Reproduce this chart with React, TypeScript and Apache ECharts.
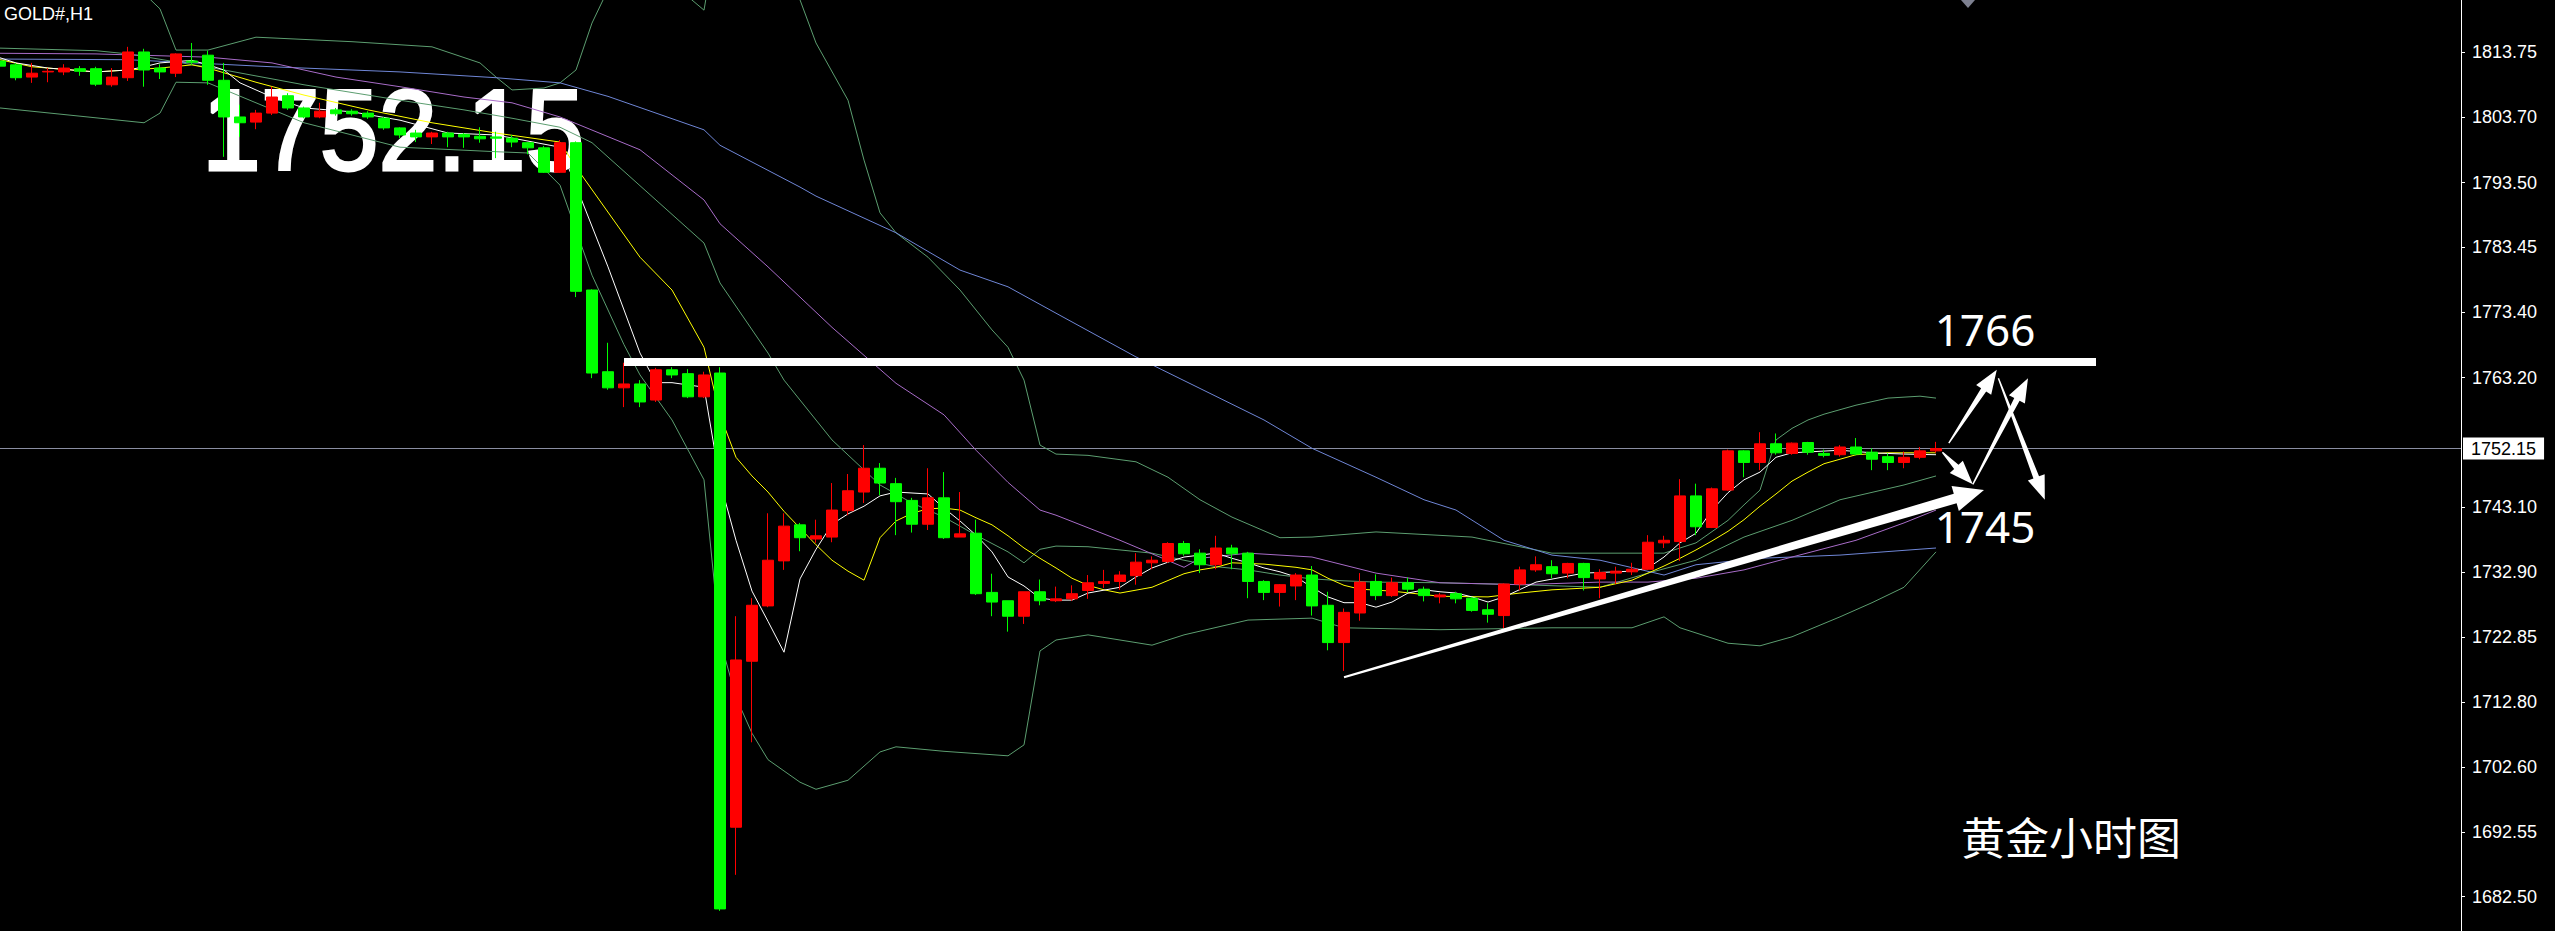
import React, { useEffect, useRef } from 'react';
import * as echarts from 'echarts';

// ---------- data ----------
// hourly bars, index = bar number (0 = leftmost)
const opens = [
  1812.4, 1811.8, 1809.9, 1810.7, 1810.7, 1811.2, 1811.2, 1808.7, 1809.8, 1813.8,
  1811.3, 1810.5, 1812.4, 1813.3, 1809.4, 1803.7, 1802.9, 1804.3, 1807.0, 1805.1,
  1803.7, 1804.8, 1804.6, 1804.3, 1803.5, 1802.0, 1801.2, 1800.6, 1801.2, 1801.0,
  1800.7, 1800.6, 1800.4, 1799.7, 1798.9, 1795.1, 1799.7, 1776.8, 1764.1, 1761.6,
  1762.2, 1759.7, 1764.4, 1763.8, 1760.2, 1763.9, 1693.3, 1719.1, 1727.7, 1734.7,
  1740.3, 1738.1, 1738.4, 1742.5, 1745.4, 1749.1, 1746.7, 1744.1, 1740.4, 1744.5,
  1738.4, 1739.0, 1729.8, 1728.5, 1726.1, 1729.9, 1728.5, 1728.8, 1730.1, 1731.2,
  1731.5, 1732.4, 1734.4, 1734.6, 1737.4, 1735.9, 1734.1, 1736.7, 1735.9, 1731.5,
  1729.8, 1730.8, 1732.5, 1727.8, 1722.0, 1726.6, 1731.5, 1729.3, 1731.3, 1730.3,
  1729.1, 1729.6, 1728.9, 1727.1, 1726.2, 1731.1, 1733.3, 1733.8, 1732.8, 1734.3,
  1731.9, 1732.8, 1733.0, 1733.4, 1737.5, 1737.7, 1744.8, 1739.9, 1745.7, 1751.8,
  1750.0, 1752.9, 1751.4, 1753.1, 1751.4, 1751.2, 1752.4, 1751.6, 1750.9, 1750.0,
  1750.8, 1751.8,
];
const closes = [
  1811.6, 1809.8, 1810.5, 1810.8, 1811.3, 1810.8, 1808.8, 1809.9, 1813.8, 1811.0,
  1810.7, 1813.5, 1812.2, 1809.4, 1803.7, 1802.8, 1804.3, 1806.8, 1805.1, 1803.7,
  1804.6, 1804.2, 1804.2, 1803.7, 1802.0, 1800.9, 1800.6, 1801.2, 1800.6, 1800.6,
  1800.3, 1800.4, 1799.8, 1798.9, 1795.1, 1799.7, 1776.6, 1763.9, 1761.6, 1762.2,
  1759.4, 1764.4, 1763.6, 1760.2, 1763.6, 1680.6, 1719.3, 1727.8, 1734.8, 1740.1,
  1738.3, 1738.6, 1742.6, 1745.6, 1749.1, 1746.8, 1743.9, 1740.4, 1744.5, 1738.3,
  1738.9, 1729.6, 1728.3, 1726.1, 1729.9, 1728.5, 1728.8, 1729.6, 1731.3, 1731.5,
  1732.5, 1734.5, 1734.8, 1737.4, 1735.8, 1734.1, 1736.7, 1735.8, 1731.5, 1729.8,
  1731.0, 1732.5, 1727.7, 1722.0, 1726.7, 1731.4, 1729.3, 1731.3, 1730.3, 1729.3,
  1729.4, 1728.8, 1727.0, 1726.4, 1731.1, 1733.3, 1734.1, 1732.7, 1734.3, 1732.1,
  1732.9, 1733.1, 1733.4, 1737.6, 1737.9, 1744.8, 1740.0, 1745.9, 1751.8, 1750.0,
  1752.9, 1751.5, 1753.0, 1751.6, 1751.1, 1752.4, 1751.3, 1750.5, 1750.0, 1750.8,
  1751.8, 1752.15,
];
const lows = [
  1811.2, 1809.4, 1809.0, 1809.1, 1810.2, 1810.1, 1808.5, 1808.4, 1809.3, 1808.4,
  1809.6, 1809.9, 1811.8, 1808.7, 1797.5, 1800.6, 1801.8, 1804.0, 1804.8, 1803.5,
  1803.5, 1803.9, 1803.9, 1803.4, 1801.7, 1800.4, 1799.8, 1799.5, 1799.0, 1798.9,
  1799.7, 1797.3, 1799.0, 1797.9, 1795.0, 1795.0, 1775.7, 1763.1, 1761.3, 1758.6,
  1758.6, 1759.4, 1763.1, 1760.0, 1760.0, 1680.3, 1685.9, 1706.5, 1727.5, 1733.3,
  1736.2, 1737.5, 1737.6, 1741.8, 1743.7, 1744.9, 1738.7, 1739.1, 1739.5, 1738.1,
  1738.4, 1729.4, 1726.1, 1723.7, 1724.9, 1727.8, 1728.3, 1728.5, 1728.8, 1730.5,
  1730.2, 1731.0, 1733.4, 1734.4, 1735.5, 1732.8, 1733.4, 1733.4, 1728.9, 1728.6,
  1727.6, 1728.6, 1726.2, 1720.8, 1717.6, 1725.4, 1728.6, 1729.1, 1729.8, 1728.4,
  1728.1, 1728.1, 1726.8, 1725.1, 1724.2, 1730.1, 1733.0, 1732.0, 1732.0, 1730.1,
  1728.9, 1731.1, 1732.5, 1733.3, 1736.7, 1734.7, 1738.7, 1739.8, 1745.6, 1747.7,
  1748.8, 1751.2, 1751.2, 1751.2, 1750.8, 1750.9, 1751.1, 1748.8, 1748.8, 1749.1,
  1750.5, 1751.5,
];
const highs = [
  1812.9, 1812.1, 1812.1, 1811.3, 1811.9, 1811.6, 1811.5, 1811.3, 1814.6, 1814.3,
  1811.9, 1813.6, 1815.2, 1814.0, 1812.1, 1805.6, 1804.8, 1808.4, 1807.4, 1805.3,
  1805.9, 1805.1, 1804.9, 1804.6, 1803.7, 1802.1, 1801.7, 1801.4, 1801.4, 1801.2,
  1802.1, 1801.4, 1800.9, 1799.8, 1799.2, 1800.1, 1799.9, 1776.9, 1768.6, 1765.5,
  1762.8, 1764.7, 1764.8, 1764.5, 1764.1, 1764.8, 1726.1, 1728.9, 1742.1, 1742.1,
  1740.6, 1741.1, 1746.8, 1748.2, 1752.7, 1749.9, 1747.6, 1744.5, 1749.1, 1748.5,
  1745.4, 1741.1, 1732.7, 1728.5, 1729.9, 1731.8, 1730.7, 1730.9, 1732.5, 1733.3,
  1733.1, 1735.9, 1735.4, 1737.6, 1737.8, 1736.5, 1738.6, 1737.2, 1736.1, 1731.7,
  1731.1, 1732.8, 1733.9, 1729.9, 1727.3, 1732.8, 1732.6, 1732.1, 1732.1, 1730.7,
  1729.7, 1729.9, 1729.1, 1728.1, 1731.2, 1733.8, 1735.4, 1734.8, 1734.4, 1734.4,
  1733.4, 1733.8, 1734.4, 1738.7, 1738.6, 1747.4, 1746.7, 1746.1, 1752.0, 1751.9,
  1754.7, 1754.5, 1753.1, 1753.2, 1752.0, 1752.7, 1753.8, 1752.2, 1751.4, 1751.7,
  1752.4, 1753.2,
];

// indicator lines: [bar, price]
const ma5 = [
  [0, 1812.9], [1, 1812.1], [3, 1811.3], [6, 1810.7], [8, 1811.0], [9, 1811.5], [10, 1812.1], [12, 1812.5],
  [13, 1811.8], [14, 1811.0], [15, 1809.0], [17, 1806.8], [19, 1805.1], [22, 1804.5], [25, 1803.2], [28, 1801.2],
  [31, 1800.9], [35, 1799.0], [36, 1793.0], [38, 1780.4], [40, 1767.0], [41, 1762.4], [42, 1762.4], [44, 1761.7],
  [45, 1747.0], [46, 1737.9], [47, 1730.0], [48, 1725.3], [49, 1720.5], [50, 1731.9], [51, 1736.5], [52, 1740.4],
  [53, 1742.0], [54, 1743.2], [55, 1744.8], [56, 1745.4], [58, 1745.1], [59, 1742.9], [60, 1740.9], [61, 1738.7],
  [62, 1736.1], [63, 1732.2], [64, 1730.8], [65, 1728.9], [66, 1728.6], [67, 1728.6], [68, 1729.7], [70, 1730.6],
  [71, 1732.2], [72, 1733.6], [73, 1734.5], [74, 1735.3], [75, 1735.6], [76, 1735.9], [77, 1735.1], [78, 1734.4],
  [79, 1733.6], [80, 1733.0], [81, 1732.2], [82, 1730.6], [83, 1729.1], [84, 1728.2], [85, 1728.2], [86, 1727.5],
  [87, 1728.3], [88, 1729.7], [89, 1730.2], [90, 1729.9], [91, 1729.7], [92, 1729.1], [93, 1728.3], [94, 1729.1],
  [96, 1731.4], [99, 1732.8], [102, 1733.1], [103, 1733.6], [104, 1735.3], [105, 1737.5], [106, 1739.0], [107, 1742.6],
  [108, 1745.3], [109, 1747.3], [110, 1748.5], [111, 1750.8], [112, 1751.5], [115, 1751.9], [117, 1751.5], [119, 1751.3],
  [121, 1751.2],
];
const ma10 = [
  [0, 1812.6], [2, 1811.5], [6, 1810.7], [10, 1811.3], [12, 1811.8], [13, 1811.3], [16, 1809.1], [19, 1807.1],
  [23, 1804.8], [27, 1802.8], [31, 1801.2], [35, 1799.8], [36, 1795.9], [40, 1781.9], [42, 1776.8], [44, 1767.9],
  [45, 1757.4], [46, 1750.8], [47, 1747.9], [48, 1745.4], [49, 1742.4], [50, 1739.8], [51, 1737.2], [52, 1734.8],
  [53, 1733.1], [54, 1731.7], [55, 1738.3], [56, 1740.9], [57, 1742.1], [58, 1742.8], [59, 1742.9], [60, 1742.6],
  [61, 1741.4], [62, 1740.3], [63, 1738.6], [64, 1736.7], [65, 1735.1], [66, 1733.6], [67, 1732.0], [68, 1730.9],
  [69, 1730.2], [70, 1729.7], [72, 1730.6], [74, 1732.7], [75, 1733.3], [76, 1733.7], [77, 1734.4], [79, 1734.2],
  [81, 1733.7], [82, 1733.3], [83, 1732.0], [84, 1730.9], [85, 1730.3], [87, 1730.0], [90, 1729.2], [93, 1729.1],
  [95, 1729.7], [97, 1730.2], [100, 1730.6], [102, 1731.7], [104, 1733.9], [105, 1735.1], [106, 1736.4], [107, 1737.8],
  [108, 1739.3], [109, 1741.1], [110, 1743.2], [111, 1745.1], [112, 1747.1], [113, 1748.5], [114, 1749.8], [116, 1751.2],
  [118, 1751.5], [121, 1751.5],
];
const bbMid = [
  [0, 1814.4], [6, 1814.0], [8, 1813.5], [14, 1811.0], [19, 1808.7], [25, 1806.3], [29, 1804.8], [32, 1803.5],
  [35, 1802.1], [37, 1799.7], [44, 1784.1], [45, 1777.9], [48, 1767.0], [49, 1762.8], [52, 1753.5], [55, 1746.5],
  [57, 1743.7], [59, 1741.5], [61, 1738.7], [63, 1736.1], [64, 1734.4], [65, 1736.5], [66, 1737.0], [68, 1736.9],
  [70, 1736.4], [72, 1735.9], [74, 1734.8], [76, 1733.8], [78, 1733.3], [80, 1732.5], [82, 1731.9], [84, 1731.6],
  [86, 1731.4], [90, 1731.3], [95, 1731.0], [100, 1730.6], [103, 1732.8], [106, 1734.8], [109, 1738.4], [112, 1741.0],
  [115, 1744.2], [119, 1746.5], [121, 1747.9],
];
const bbUpper = [
  [8, 1826.0], [9, 1822.9], [10, 1820.5], [11, 1814.1], [13, 1814.1], [16, 1816.1], [22, 1815.4], [27, 1814.6],
  [30, 1812.1], [31, 1809.9], [32, 1807.9], [34, 1808.2], [35, 1809.0], [36, 1811.0], [37, 1818.3], [38, 1823.5],
  [40, 1828.0], [42, 1825.0], [43, 1822.4], [44, 1820.3], [45, 1835.0], [47, 1836.0], [49, 1826.0], [50, 1821.9],
  [51, 1815.2], [53, 1806.3], [54, 1797.0], [55, 1788.8], [56, 1785.7], [58, 1781.9], [60, 1776.8], [62, 1770.6],
  [63, 1767.9], [64, 1762.8], [65, 1752.7], [66, 1751.3], [68, 1751.1], [71, 1750.1], [73, 1747.7], [75, 1744.2],
  [77, 1741.5], [80, 1738.3], [82, 1738.4], [86, 1739.2], [92, 1738.4], [97, 1735.9], [100, 1735.9], [104, 1735.9],
  [106, 1737.5], [108, 1741.0], [109, 1743.4], [110, 1745.7], [111, 1753.5], [112, 1755.3], [113, 1756.6], [114, 1757.5],
  [116, 1758.9], [118, 1760.0], [120, 1760.3], [121, 1760.0],
];
const bbLower = [
  [0, 1805.1], [9, 1802.8], [10, 1804.3], [11, 1809.1], [13, 1809.0], [19, 1802.8], [25, 1799.0], [31, 1798.3],
  [33, 1798.1], [35, 1793.1], [37, 1779.1], [39, 1768.3], [40, 1763.6], [42, 1756.6], [44, 1747.3], [45, 1722.4],
  [46, 1713.5], [47, 1707.9], [48, 1703.8], [50, 1700.3], [51, 1699.2], [53, 1700.6], [55, 1705.0], [56, 1705.8],
  [59, 1705.1], [63, 1704.4], [64, 1706.1], [65, 1720.7], [66, 1722.4], [68, 1723.2], [72, 1721.6], [74, 1723.2],
  [78, 1725.5], [82, 1725.8], [84, 1724.3], [90, 1724.0], [97, 1724.3], [102, 1724.3], [104, 1726.0], [105, 1724.3],
  [108, 1721.9], [110, 1721.5], [112, 1722.9], [115, 1726.0], [117, 1728.2], [119, 1730.6], [121, 1736.1],
];
const ma30 = [
  [0, 1813.6], [6, 1813.5], [13, 1813.0], [17, 1812.1], [21, 1809.9], [25, 1808.4], [29, 1806.8], [32, 1805.9],
  [35, 1803.7], [40, 1798.6], [44, 1790.8], [45, 1787.1], [48, 1780.4], [52, 1771.0], [56, 1762.3], [59, 1757.4],
  [61, 1751.9], [63, 1746.9], [65, 1742.6], [66, 1741.8], [70, 1737.9], [74, 1733.7], [75, 1735.1], [78, 1735.9],
  [82, 1735.3], [86, 1732.8], [90, 1731.3], [95, 1731.0], [100, 1731.4], [103, 1731.4], [106, 1732.0], [109, 1733.3],
  [112, 1735.3], [116, 1737.9], [119, 1740.6], [121, 1742.6],
];
const ma60 = [
  [0, 1812.7], [8, 1812.6], [17, 1811.5], [25, 1810.7], [31, 1809.8], [35, 1809.0], [38, 1806.9], [44, 1801.7],
  [45, 1799.3], [50, 1792.8], [51, 1791.4], [56, 1785.7], [60, 1779.9], [63, 1777.3], [66, 1773.2], [71, 1766.4],
  [79, 1756.6], [82, 1752.2], [86, 1747.7], [89, 1744.2], [91, 1742.6], [94, 1737.9], [97, 1735.6], [100, 1734.8],
  [104, 1732.5], [106, 1734.1], [110, 1735.1], [115, 1735.6], [121, 1736.7],
];

// axis tick labels (right price scale)
const priceTicks = [1813.75, 1803.7, 1793.5, 1783.45, 1773.4, 1763.2, 1743.1, 1732.9, 1722.85, 1712.8, 1702.6, 1692.55, 1682.5];
const currentPrice = 1752.15;
const priceMin = 1677.17;
const priceMax = 1821.88;

// annotations (bar, price)
const resistance = [[39, 1765.6], [131, 1765.6]];
const trendTail = [[84, 1716.6]];
const trendTip = [[124, 1745.7]];
const arrowTails = [[121.8, 1753.0], [121.4, 1751.6], [123.3, 1746.6], [124.9, 1763.1]];
const arrowTips = [[124.8, 1764.4], [123.3, 1746.6], [126.75, 1763.1], [127.8, 1744.2]];

// ---------- chart ----------
const W = 2555;
const H = 931;
const AXIS_X = 2461;
const BAR_PX = 16;

function arrowPolygon(a: number[], b: number[], w0: number, w1: number, headLen: number, headHalf: number) {
  const dx = b[0] - a[0];
  const dy = b[1] - a[1];
  const len = Math.hypot(dx, dy) || 1;
  const ux = dx / len;
  const uy = dy / len;
  const nx = -uy;
  const ny = ux;
  const bx = b[0] - ux * headLen;
  const by = b[1] - uy * headLen;
  return [
    [a[0] + nx * w0 / 2, a[1] + ny * w0 / 2],
    [bx + nx * w1 / 2, by + ny * w1 / 2],
    [bx + nx * headHalf, by + ny * headHalf],
    [b[0], b[1]],
    [bx - nx * headHalf, by - ny * headHalf],
    [bx - nx * w1 / 2, by - ny * w1 / 2],
    [a[0] - nx * w0 / 2, a[1] - ny * w0 / 2],
  ];
}

function arrowSeries(name: string, tails: number[][], tips: number[][], w0: number, w1: number, headLen: number, headHalf: number) {
  return {
    type: 'custom',
    name,
    coordinateSystem: 'cartesian2d',
    clip: false,
    silent: true,
    z: 6,
    encode: { x: [0, 2], y: [1, 3] },
    data: tails.map((t, i) => [t[0], t[1], tips[i][0], tips[i][1]]),
    renderItem: (_params: any, api: any) => {
      const a = api.coord([api.value(0), api.value(1)]);
      const b = api.coord([api.value(2), api.value(3)]);
      return {
        type: 'polygon',
        shape: { points: arrowPolygon(a, b, w0, w1, headLen, headHalf) },
        style: { fill: '#ffffff' },
      };
    },
  };
}

function lineSeries(name: string, pts: number[][], color: string) {
  return {
    type: 'line',
    name,
    data: pts,
    showSymbol: false,
    symbol: 'none',
    silent: true,
    clip: true,
    z: 2,
    lineStyle: { color, width: 1 },
  };
}

export default function App() {
  const ref = useRef<HTMLDivElement>(null);

  useEffect(() => {
    if (!ref.current) return;
    const chart = echarts.init(ref.current, undefined, { renderer: 'svg' });
    const candles = opens.map((o, i) => [i, o, closes[i], lows[i], highs[i]]);

    chart.setOption({
      animation: false,
      backgroundColor: '#000000',
      grid: { left: 0, right: W - AXIS_X, top: 0, bottom: 0, containLabel: false },
      xAxis: {
        type: 'value',
        min: 0,
        max: AXIS_X / BAR_PX,
        show: false,
        axisLine: { show: false, onZero: false },
        axisTick: { show: false },
        axisLabel: { show: false },
        splitLine: { show: false },
      },
      yAxis: {
        type: 'value',
        position: 'right',
        min: priceMin,
        max: priceMax,
        splitLine: { show: false },
        axisLine: { show: true, onZero: false, lineStyle: { color: '#ffffff', width: 1 } },
        axisTick: { show: true, inside: false, customValues: priceTicks, length: 4, lineStyle: { color: '#ffffff' } },
        axisLabel: {
          customValues: priceTicks,
          formatter: (v: number) => v.toFixed(2),
          color: '#ffffff',
          fontSize: 18,
          fontFamily: 'Liberation Sans',
          margin: 11,
        },
      },
      series: [
        lineSeries('BB upper', bbUpper, '#5c9e70'),
        lineSeries('BB middle', bbMid, '#5c9e70'),
        lineSeries('BB lower', bbLower, '#5c9e70'),
        lineSeries('MA60', ma60, '#6f86d6'),
        lineSeries('MA30', ma30, '#a86cc8'),
        lineSeries('MA10', ma10, '#ffff00'),
        lineSeries('MA5', ma5, '#ffffff'),
        {
          type: 'candlestick',
          name: 'GOLD',
          data: candles,
          barWidth: 11,
          z: 3,
          silent: true,
          itemStyle: {
            color: '#ff0000',
            color0: '#00ff00',
            borderColor: '#ff0000',
            borderColor0: '#00ff00',
            borderWidth: 1,
          },
          markLine: {
            silent: true,
            symbol: ['none', 'none'],
            z: 1,
            lineStyle: { color: '#8a8ea2', width: 1, type: 'solid' },
            label: {
              show: true,
              position: 'end',
              distance: 2,
              formatter: (p: any) => Number(p.value).toFixed(2),
              backgroundColor: '#ffffff',
              color: '#000000',
              fontSize: 18,
              fontFamily: 'Liberation Sans',
              padding: [2, 8, 2, 8],
            },
            data: [{ yAxis: currentPrice }],
          },
        },
        {
          type: 'line',
          name: 'resistance',
          data: resistance,
          showSymbol: false,
          symbol: 'none',
          silent: true,
          clip: false,
          z: 5,
          lineStyle: { color: '#ffffff', width: 8, cap: 'butt' },
        },
        arrowSeries('trend', trendTail, trendTip, 2, 10, 30, 13),
        arrowSeries('paths', arrowTails, arrowTips, 1.4, 6, 24, 9),
      ],
      graphic: [
        {
          type: 'text',
          x: 202,
          y: 130,
          scaleX: 0.92,
          z: 1,
          style: {
            text: '1752.15',
            fill: '#ffffff',
            stroke: '#ffffff',
            lineWidth: 3,
            font: '115px "Liberation Sans"',
            textAlign: 'left',
            textVerticalAlign: 'middle',
          },
        },
        {
          type: 'text',
          x: 4,
          y: 14,
          z: 10,
          style: {
            text: 'GOLD#,H1',
            fill: '#ffffff',
            font: '18px "Liberation Sans"',
            textAlign: 'left',
            textVerticalAlign: 'middle',
          },
        },
        {
          type: 'text',
          x: 1985,
          y: 329,
          z: 10,
          style: {
            text: '1766',
            fill: '#ffffff',
            font: '44px "Noto Sans"',
            textAlign: 'center',
            textVerticalAlign: 'middle',
          },
        },
        {
          type: 'text',
          x: 1985,
          y: 526,
          z: 10,
          style: {
            text: '1745',
            fill: '#ffffff',
            font: '44px "Noto Sans"',
            textAlign: 'center',
            textVerticalAlign: 'middle',
          },
        },
        {
          type: 'text',
          x: 2071,
          y: 836,
          z: 10,
          style: {
            text: '黄金小时图',
            fill: '#ffffff',
            font: '44px "Noto Sans CJK SC"',
            textAlign: 'center',
            textVerticalAlign: 'middle',
          },
        },
        {
          type: 'polygon',
          z: 10,
          shape: { points: [[1961, 0], [1975, 0], [1968, 8]] },
          style: { fill: '#7d8090' },
        },
      ],
    });

    return () => chart.dispose();
  }, []);

  return (
    <div
      ref={ref}
      style={{ position: 'fixed', left: 0, top: 0, width: W, height: H, background: '#000' }}
    />
  );
}
